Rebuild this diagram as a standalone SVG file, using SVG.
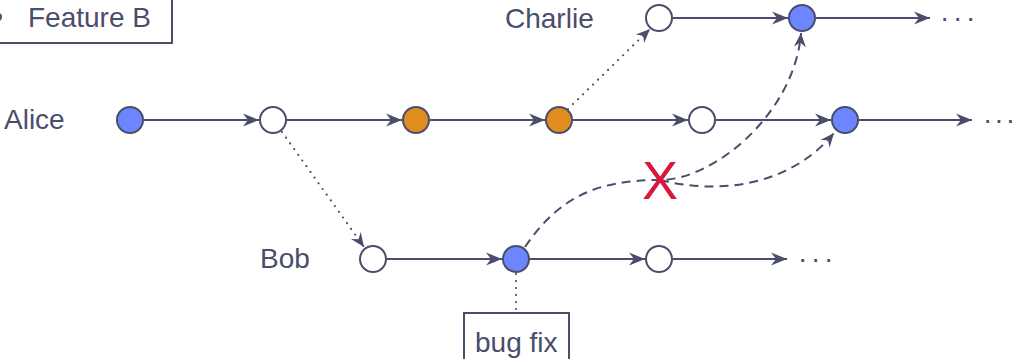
<svg xmlns="http://www.w3.org/2000/svg" width="1017" height="359" viewBox="0 0 1017 359">
<style>
.n{stroke:#4a4d6b;stroke-width:2}
.w{fill:#ffffff}
.b{fill:#6d86ff}
.o{fill:#e08d1f}
.e{stroke:#4a4d6b;stroke-width:2;fill:none}
.dot{stroke:#4a4d6b;stroke-width:2.2;fill:none;stroke-dasharray:0 7;stroke-linecap:round}
.dash{stroke:#4a4d6b;stroke-width:2;fill:none;stroke-dasharray:9 6}
.t{font-family:"Liberation Sans",Arial,sans-serif;font-size:28px;fill:#4a4d6b}
.box{fill:#ffffff;stroke:#4a4d6b;stroke-width:2}
</style>
<defs>
<marker id="ah" markerUnits="userSpaceOnUse" markerWidth="20" markerHeight="16" viewBox="-17 -8 18 16" refX="0" refY="0" orient="auto">
<path d="M0,0 L-16,-6.5 L-11,0 L-16,6.5 z" fill="#4a4d6b"/>
</marker>
<marker id="ahs" markerUnits="userSpaceOnUse" markerWidth="16" markerHeight="14" viewBox="-15 -7 16 14" refX="0" refY="0" orient="auto">
<path d="M0,0 L-14,-6 L-9.5,0 L-14,6 z" fill="#4a4d6b"/>
</marker>
</defs>
<rect width="1017" height="359" fill="#ffffff"/>

<g id="legend-feature-b">
<rect class="box" x="-10" y="-10" width="182" height="53"/>
<circle cx="-2" cy="17" r="4" fill="#4a4d6b"/>
<text class="t" x="28" y="27">Feature B</text>
</g>

<g id="connectors">
<!-- Alice row -->
<line class="e" x1="144" y1="120" x2="259" y2="120" marker-end="url(#ah)"/>
<line class="e" x1="287" y1="120" x2="402" y2="120" marker-end="url(#ah)"/>
<line class="e" x1="430" y1="120" x2="545" y2="120" marker-end="url(#ah)"/>
<line class="e" x1="573" y1="120" x2="688" y2="120" marker-end="url(#ah)"/>
<line class="e" x1="716" y1="120" x2="831" y2="120" marker-end="url(#ah)"/>
<line class="e" x1="859" y1="120" x2="972" y2="120" marker-end="url(#ah)"/>
<!-- Charlie row -->
<line class="e" x1="673" y1="18" x2="788" y2="18" marker-end="url(#ah)"/>
<line class="e" x1="816" y1="18" x2="930" y2="18" marker-end="url(#ah)"/>
<!-- Bob row -->
<line class="e" x1="387" y1="259" x2="502" y2="259" marker-end="url(#ah)"/>
<line class="e" x1="530" y1="259" x2="645" y2="259" marker-end="url(#ah)"/>
<line class="e" x1="673" y1="259" x2="787" y2="259" marker-end="url(#ah)"/>
<!-- dotted branches -->
<line class="dot" x1="282" y1="132" x2="364" y2="247" marker-end="url(#ahs)"/>
<line class="dot" x1="568" y1="109" x2="650" y2="29" marker-end="url(#ahs)"/>
<line class="dot" x1="516" y1="274" x2="516" y2="312"/>
<!-- dashed cherry-picks -->
<path class="dash" d="M 525 247 C 560 195, 600 180, 660 180 C 715 180, 795 112, 801 33" marker-end="url(#ahs)"/>
<path class="dash" d="M 660 180 C 720 195, 790 186, 834 133" marker-end="url(#ahs)"/>
</g>

<g id="ellipses">
<text class="t" x="940" y="27" letter-spacing="3.7">···</text>
<text class="t" x="983" y="129" letter-spacing="2">···</text>
<text class="t" x="798" y="268" letter-spacing="3.7">···</text>
</g>

<g id="labels">
<text class="t" x="4" y="129">Alice</text>
<text class="t" x="505" y="28">Charlie</text>
<text class="t" x="260" y="268">Bob</text>
</g>

<g id="alice-1"><circle class="n b" cx="130" cy="120" r="13"/></g>
<g id="alice-2"><circle class="n w" cx="273" cy="120" r="13"/></g>
<g id="alice-3"><circle class="n o" cx="416" cy="120" r="13"/></g>
<g id="alice-4"><circle class="n o" cx="559" cy="120" r="13"/></g>
<g id="alice-5"><circle class="n w" cx="702" cy="120" r="13"/></g>
<g id="alice-6"><circle class="n b" cx="845" cy="120" r="13"/></g>
<g id="charlie-1"><circle class="n w" cx="659" cy="18" r="13"/></g>
<g id="charlie-2"><circle class="n b" cx="802" cy="18" r="13"/></g>
<g id="bob-1"><circle class="n w" cx="373" cy="259" r="13"/></g>
<g id="bob-2"><circle class="n b" cx="516" cy="259" r="13"/></g>
<g id="bob-3"><circle class="n w" cx="659" cy="259" r="13"/></g>

<g id="bug-fix">
<rect class="box" x="464" y="313" width="105" height="60"/>
<text class="t" x="475" y="352">bug fix</text>
</g>

<g id="blocked">
<text x="660" y="199" text-anchor="middle" font-family="Liberation Sans,Arial,sans-serif" font-size="54" fill="#d9163c">X</text>
</g>
</svg>
